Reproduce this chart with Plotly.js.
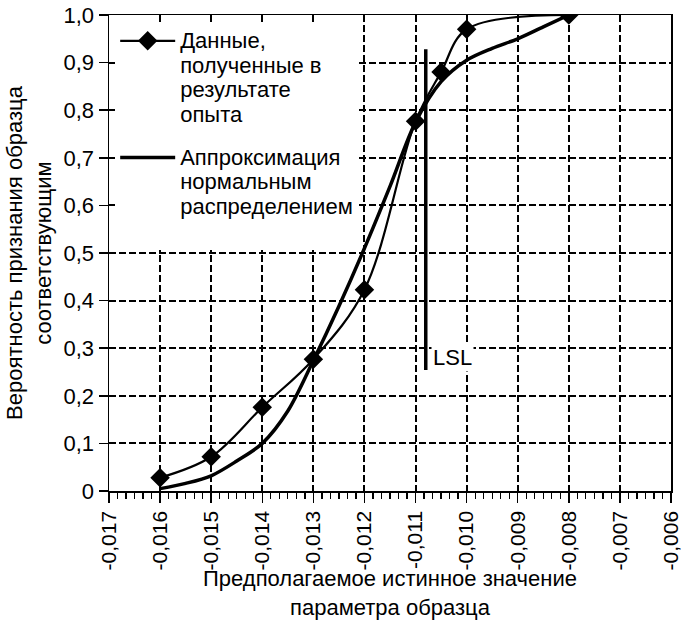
<!DOCTYPE html>
<html>
<head>
<meta charset="utf-8">
<script src="https://cdn.plot.ly/plotly-3.0.1.min.js"></script>
<style>html,body{margin:0;padding:0;background:#fff;}#chart{width:681px;height:620px;}</style>
</head>
<body>
<div id="chart"></div>
<script>
// Experimental data (diamonds)
var dataX = [-0.016, -0.015, -0.014, -0.013, -0.012, -0.011, -0.0105, -0.010, -0.008];
var dataY = [0.028, 0.072, 0.176, 0.277, 0.423, 0.777, 0.88, 0.97, 1.0];

// Normal-distribution approximation
var normX = [-0.016, -0.0155, -0.015, -0.0145, -0.014, -0.0135, -0.013, -0.0125, -0.012, -0.0115, -0.011, -0.0105, -0.010, -0.0095, -0.009, -0.0085, -0.008];
var normY = [0.005, 0.016, 0.032, 0.063, 0.10, 0.168, 0.274, 0.388, 0.51, 0.64, 0.775, 0.86, 0.905, 0.93, 0.95, 0.975, 1.0];

// LSL marker
var lslX = [-0.0108, -0.0108];
var lslY = [0.254, 0.928];
var lslLabel = "LSL";

// Tick labels
var xTickVals = [-0.017, -0.016, -0.015, -0.014, -0.013, -0.012, -0.011, -0.010, -0.009, -0.008, -0.007, -0.006];
var xTickText = ["-0,017", "-0,016", "-0,015", "-0,014", "-0,013", "-0,012", "-0,011", "-0,010", "-0,009", "-0,008", "-0,007", "-0,006"];
var yTickVals = [0, 0.1, 0.2, 0.3, 0.4, 0.5, 0.6, 0.7, 0.8, 0.9, 1.0];
var yTickText = ["0", "0,1", "0,2", "0,3", "0,4", "0,5", "0,6", "0,7", "0,8", "0,9", "1,0"];

var seriesNames = [
  ["Данные,", "полученные в", "результате", "опыта"],
  ["Аппроксимация", "нормальным", "распределением", "&nbsp;"]
];
var xTitle = "Предполагаемое истинное значение<br>параметра образца";
var yTitle = "Вероятность признания образца<br>соответствующим";

var FONT = "Liberation Sans, Arial, sans-serif";

function legendLabel(lines) {
  return lines.map(function (s) { return '<span style="font-size:22px">' + s + '</span>'; }).join("<br>");
}

var traces = [
  {
    x: dataX, y: dataY, type: "scatter", mode: "lines+markers",
    name: legendLabel(seriesNames[0]), legendgroup: "a",
    line: {color: "#000", width: 2.2, shape: "spline", smoothing: 1},
    marker: {symbol: "diamond", size: 15, color: "#000"}
  },
  {
    x: normX, y: normY, type: "scatter", mode: "lines",
    name: legendLabel(seriesNames[1]), legendgroup: "b",
    line: {color: "#000", width: 3.5, shape: "spline", smoothing: 0.9}
  },
  {
    x: lslX, y: lslY, type: "scatter", mode: "lines",
    showlegend: false, hoverinfo: "skip",
    line: {color: "#000", width: 3.5}
  }
];

var gridStyle = {gridcolor: "#000", gridwidth: 2, griddash: "7px,3px"};

var layout = {
  width: 681, height: 620,
  margin: {l: 109, r: 10, t: 15, b: 129},
  paper_bgcolor: "#fff", plot_bgcolor: "#fff",
  font: {family: FONT, size: 22, color: "#000"},
  showlegend: true,
  legend: {
    x: 0.011, y: 0.985, xanchor: "left", yanchor: "top",
    bgcolor: "#fff", borderwidth: 0,
    font: {family: FONT, size: 18.8, color: "#000"},
    itemwidth: 55, valign: "top", tracegroupgap: 16
  },
  xaxis: Object.assign({
    range: [-0.017, -0.0059999], tickmode: "array",
    tickvals: xTickVals, ticktext: xTickText, tickangle: -90,
    ticklabeloverflow: "allow",
    ticks: "outside", ticklen: 10, tickwidth: 1.5, tickcolor: "#000",
    showline: true, linecolor: "#000", linewidth: 1.5, mirror: true,
    zeroline: false, showgrid: true,
    tickfont: {family: FONT, size: 21, color: "#000"},
    minor: {tick0: -0.017, dtick: 0.001 / 6, ticks: "outside", ticklen: 6, tickwidth: 1.3, tickcolor: "#000", showgrid: false},
    title: {text: xTitle, font: {family: FONT, size: 22, color: "#000"}, standoff: 14}
  }, gridStyle),
  yaxis: Object.assign({
    range: [0, 1], tickmode: "array",
    tickvals: yTickVals, ticktext: yTickText,
    ticks: "outside", ticklen: 9, tickwidth: 1.5, tickcolor: "#000",
    showline: true, linecolor: "#000", linewidth: 1.5, mirror: true,
    zeroline: false, showgrid: true,
    tickfont: {family: FONT, size: 22, color: "#000"},
    title: {text: yTitle, font: {family: FONT, size: 22, color: "#000"}, standoff: 6}
  }, gridStyle),
  annotations: [
    {x: lslX[0], y: 0.281, xref: "x", yref: "y", text: lslLabel, showarrow: false,
     xanchor: "left", yanchor: "middle", xshift: 5, bgcolor: "#fff",
     font: {family: FONT, size: 22, color: "#000"}}
  ]
};

Plotly.newPlot("chart", traces, layout, {displayModeBar: false, staticPlot: true});
</script>
</body>
</html>
